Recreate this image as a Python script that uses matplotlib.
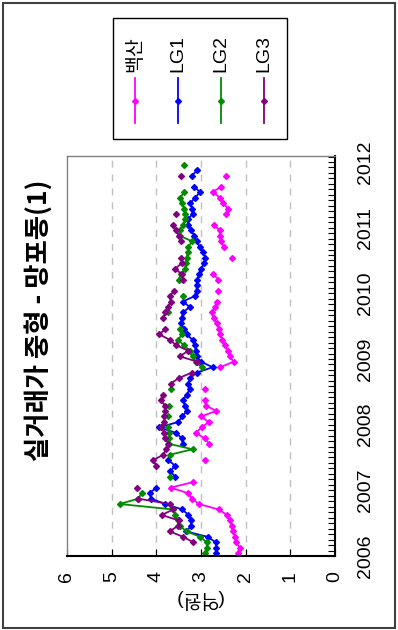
import numpy as np
import matplotlib
matplotlib.use('Agg')
import matplotlib.pyplot as plt
from matplotlib.lines import Line2D
from matplotlib.patches import Rectangle

plt.rcParams['font.family'] = ['Liberation Sans', 'Noto Sans CJK KR']

nan = np.nan
# monthly observations, Jan 2006 .. Dec 2011 (100 million won)
months = np.arange(72)
baeksan = [2.18, 2.13, 2.22, 2.24, 2.29, 2.31, 2.36, 2.42, 2.60, 3.05,
           3.20, 3.30, 3.68, 3.18, nan, nan, nan, 2.90, nan, nan,
           2.82, 2.91, 3.12, 2.98, 2.83, 3.00, 2.66, 2.89, 2.92, nan,
           2.90, nan, nan, nan, 2.57, 2.27, 2.36, 2.40, 2.47, 2.52,
           2.58, 2.60, 2.65, 2.72, 2.76, 2.68, 2.65, nan, 2.61, nan,
           2.61, 2.73, nan, nan, 2.30, nan, 2.49, 2.56, 2.58, 2.58,
           2.71, nan, 2.43, 2.40, 2.50, 2.58, 2.74, 2.55, nan, 2.44,
           nan, nan]
lg1 = [2.66, 2.66, 2.67, 2.85, 3.33, 3.22, 3.22, 3.28, 3.42, 3.80,
       4.12, 4.15, 4.00, nan, 3.58, 3.69, 3.58, 3.73, nan, nan,
       3.41, 3.43, 3.56, 3.93, 3.51, 3.42, 3.32, 3.36, 3.40, 3.32,
       3.25, 3.28, 3.25, 3.10, 2.74, 3.00, 3.10, 3.12, 3.13, 3.19,
       3.32, 3.38, 3.45, 3.43, 3.41, 3.25, 3.41, 3.14, 3.10, 3.10,
       3.08, 3.05, 3.00, 2.93, 2.90, 2.95, 3.03, 3.10, 3.15, 3.22,
       3.28, 3.30, 3.19, 3.20, 3.24, 3.13, 3.02, 3.16, nan, 3.21,
       3.08, nan]
lg2 = [2.90, 2.87, 2.87, 3.02, 3.32, 3.48, 3.52, 3.58, 3.62, 4.82,
       4.40, 4.33, nan, nan, 3.70, nan, nan, nan, 3.70, 3.19,
       3.71, 3.71, 3.72, 3.75, nan, 3.75, nan, 3.71, nan, nan,
       3.67, nan, nan, nan, 2.98, 3.12, 3.18, 3.25, 3.38, 3.52,
       3.42, 3.47, nan, nan, 3.75, nan, nan, 3.41, nan, nan,
       3.50, 3.45, 3.36, 3.34, 3.32, 3.30, 3.28, 3.20, 3.47, 3.48,
       3.40, 3.36, 3.36, 3.38, 3.42, 3.46, 3.38, nan, nan, nan,
       nan, 3.38]
lg3 = [nan, nan, 3.17, 3.40, 3.70, 3.52, 3.50, 3.88, 3.62, 3.70,
       4.42, nan, 4.44, nan, nan, nan, 4.00, 4.07, 3.85, 3.78,
       3.73, 3.80, 3.82, 3.90, 3.82, 3.82, 3.80, 3.81, 3.90, 3.84,
       nan, 3.68, 3.50, 3.21, nan, 3.08, 3.48, 3.28, 3.55, 3.70,
       3.93, 3.80, nan, 3.84, 3.80, 3.73, 3.68, 3.70, 3.60, nan,
       3.41, 3.43, 3.58, 3.43, 3.45, nan, nan, 3.45, 3.50, 3.55,
       3.63, nan, 3.55, nan, nan, nan, nan, nan, nan, 3.45,
       nan, nan]

names = ['백산', 'LG1', 'LG2', 'LG3']
colors = ['#ff00ff', '#0000ff', '#008b00', '#800080']
years = [2006, 2007, 2008, 2009, 2010, 2011, 2012]
value_ticks = [0, 1, 2, 3, 4, 5, 6]
grid_values = [1, 2, 3, 4, 5]
title = '실거래가 중형 - 망포동(1)'
unit_label = '(억원)'

W, H = 398, 630
t = 2006 + (months + 0.5) / 12


def fx(px):
    return px / W


def fy(py):
    return 1 - py / H


fig = plt.figure(figsize=(W / 100, H / 100), dpi=100)
ax = fig.add_axes([fx(67), fy(556), fx(268), 400 / H])

for v in grid_values:
    ax.axvline(v, color='#c0c0c0', lw=1, ls=(0, (5, 5)), zorder=0)

for vals, c in zip([baeksan, lg1, lg2, lg3], colors):
    ax.plot(vals, t, '-', color=c, lw=1.3, marker='D', ms=3.0,
            mfc=c, mec=c)

ax.set_xlim(6, 0)
ax.set_ylim(2006, 2012 + 6 / 65.7)

ax.set_xticks(value_ticks)
ax.set_xticklabels([str(v) for v in value_ticks], rotation=90)
ax.tick_params(axis='x', direction='in', length=5, pad=11, labelsize=14)

ax.yaxis.tick_right()
ax.set_yticks(years)
ax.set_yticklabels([str(y) for y in years], rotation=90, va='center')
ax.set_yticks(np.arange(2006, 2012.1, 1 / 12), minor=True)
ax.tick_params(axis='y', which='both', direction='in', length=5,
               width=0.8, pad=16, labelsize=14)

for s in ['top', 'left']:
    ax.spines[s].set_color('#808080')
    ax.spines[s].set_linewidth(1)
for s in ['right', 'bottom']:
    ax.spines[s].set_color('black')
    ax.spines[s].set_linewidth(1.5)

fig.text(fx(39), fy(320), title, rotation=90, ha='center', va='center',
         fontsize=19, fontweight='bold', family='Noto Sans CJK KR')
fig.text(fx(198), fy(599), unit_label, rotation=180, ha='center',
         va='center', fontsize=14)

# legend drawn sideways, like the rest of the chart
fig.add_artist(Rectangle((fx(113), fy(139)), fx(174), 121 / H,
                         transform=fig.transFigure, fill=False,
                         ec='black', lw=1))
for i, (name, c) in enumerate(zip(names, colors)):
    x = fx(135 + i * 43)
    fig.text(x, fy(72), name, rotation=90, ha='center', va='bottom',
             fontsize=14)
    fig.add_artist(Line2D([x, x], [fy(78), fy(123)], color=c, lw=1.3,
                          transform=fig.transFigure))
    fig.add_artist(Line2D([x], [fy(101)], color=c, marker='D', ms=3.0,
                          transform=fig.transFigure))

fig.add_artist(Rectangle((fx(3), fy(628)), fx(392), 625 / H,
                         transform=fig.transFigure, fill=False,
                         ec='#404040', lw=1.5))

fig.savefig('out.png', dpi=100)
